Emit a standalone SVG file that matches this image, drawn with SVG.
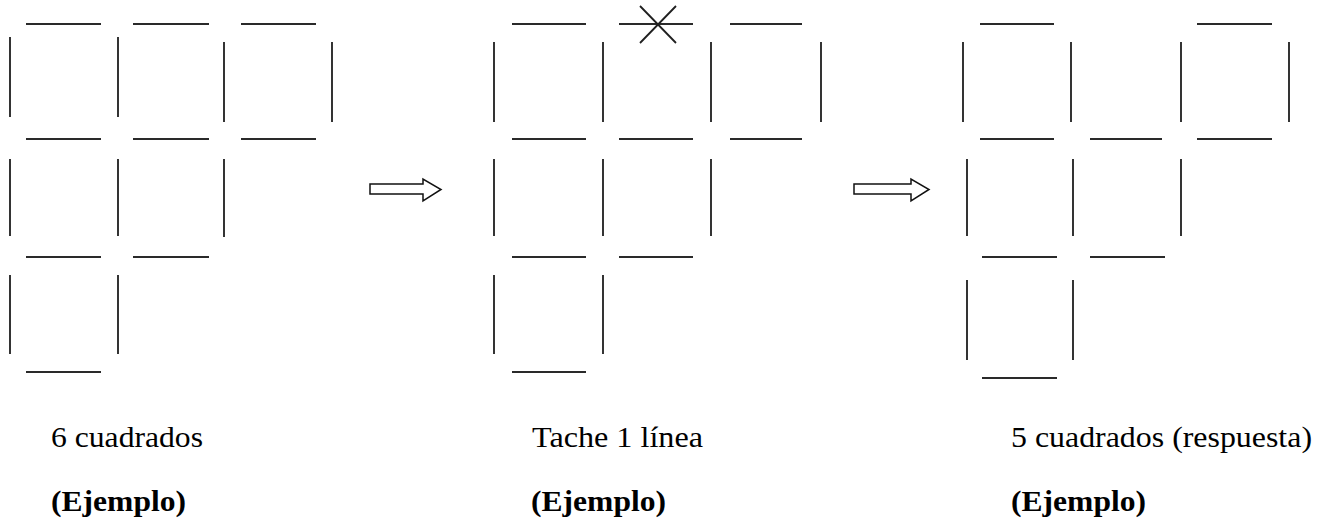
<svg xmlns="http://www.w3.org/2000/svg" width="1319" height="523" viewBox="0 0 1319 523">
<style>
.m{stroke:#2a2a2a;stroke-width:1.9;fill:none}
.x{stroke:#202020;stroke-width:1.8;fill:none}
.ar{stroke:#111;stroke-width:1.5;fill:#fff}
.t{font-family:"Liberation Serif","Times New Roman",serif;font-size:30px;fill:#000}
.b{font-weight:bold}
</style>
<rect width="1319" height="523" fill="#fff"/>
<g id="panel1">
<path class="m" d="M26 24H101M133 24H209M241 24H316M10 37V117M118 37V117M224 42V122M332 42V122M26 139H101M133 139H209M241 139H316M10 159V236M118 159V236M224 159V237M26 257H101M133 257H209M10 275V354M118 275V354M26 372H101"/>
</g>
<g id="panel2">
<path class="m" d="M512 24H586M619 24H693M730 24H802M494 42V122M603 42V122M711 42V122M821 42V122M512 139H586M619 139H693M730 139H802M494 159V236M603 159V236M711 159V236M512 257H586M619 257H693M494 275V354M603 275V354M512 372H586"/>
<path class="x" d="M640 6L676 43M676 6L640 43"/>
</g>
<g id="panel3">
<path class="m" d="M980 24H1054M1197 24H1272M963 42V122M1071 42V122M1181 42V122M1289 42V122M980 139H1054M1090 139H1162M1197 139H1272M967 159V236M1073 159V236M1181 159V236M982 257H1057M1090 257H1165M967 280V360M1073 280V360M982 378H1057"/>
</g>
<g id="connectors">
<path class="ar" d="M370 184H423V179L441 189.5L423 201V194H370Z"/>
<path class="ar" d="M854 184H911V179L929 189.5L911 201V194H854Z"/>
</g>
<g id="labels">
<text class="t" x="51" y="447" textLength="152" lengthAdjust="spacingAndGlyphs">6 cuadrados</text>
<text class="t b" x="51" y="511" textLength="135" lengthAdjust="spacingAndGlyphs">(Ejemplo)</text>
<text class="t" x="532" y="447" textLength="171" lengthAdjust="spacingAndGlyphs">Tache 1 línea</text>
<text class="t b" x="531" y="511" textLength="135" lengthAdjust="spacingAndGlyphs">(Ejemplo)</text>
<text class="t" x="1011" y="447" textLength="301" lengthAdjust="spacingAndGlyphs">5 cuadrados (respuesta)</text>
<text class="t b" x="1011" y="511" textLength="135" lengthAdjust="spacingAndGlyphs">(Ejemplo)</text>
</g>
</svg>
